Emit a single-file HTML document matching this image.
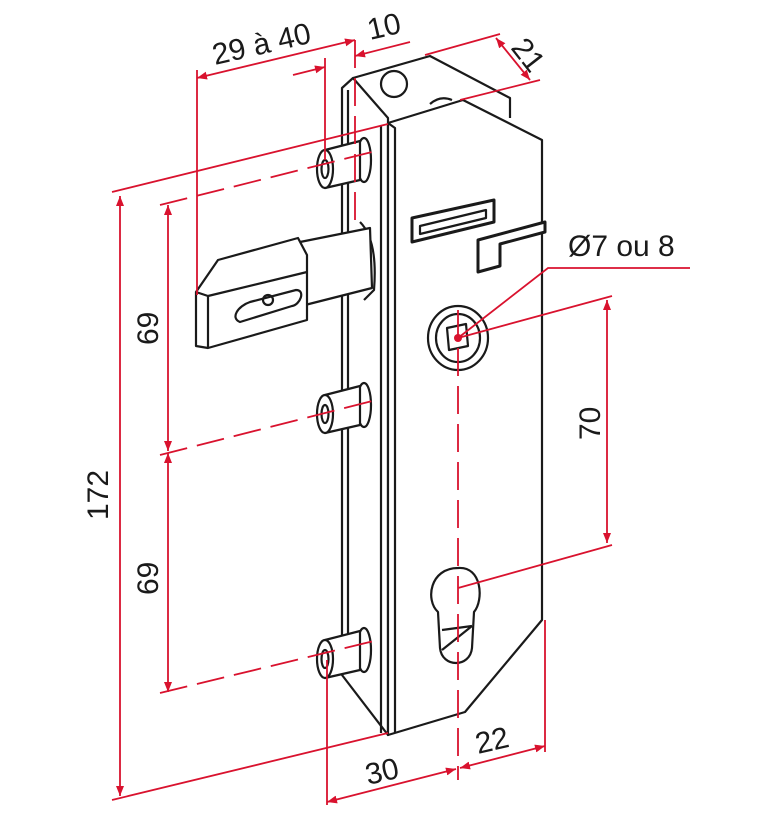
<!DOCTYPE html>
<html><head><meta charset="utf-8"><style>
html,body{margin:0;padding:0;background:#fff;}
svg{display:block}
text{font-family:"Liberation Sans",sans-serif;fill:#1a1a1a;font-size:30px}
</style></head><body>
<svg width="768" height="826" viewBox="0 0 768 826" xmlns="http://www.w3.org/2000/svg">
<defs>
<marker id="a" viewBox="0 0 10 10" refX="10" refY="5" markerWidth="10" markerHeight="10" orient="auto-start-reverse" markerUnits="userSpaceOnUse"><path d="M0,1 L10,5 L0,9z" fill="#d9122e"/></marker>
</defs>
<g fill="none" stroke="#1a1a1a" stroke-width="2.2" stroke-linejoin="round">
<!-- back top flange -->
<path d="M353,78 L430,56 L510,98 L510,118" fill="#fff"/>
<circle cx="394" cy="84" r="13" fill="#fff"/>
<path d="M430,104 Q440,95 452,100"/>
<!-- side plate -->
<path d="M342,88 L353,78 L388,118 L388,735 L342,675 Z" fill="#fff"/>
<line x1="381" y1="125" x2="381" y2="733"/>
<line x1="348" y1="90" x2="348" y2="672"/>
<!-- front plate -->
<path d="M388,123 L463,100 L542,140 L542,620 L465,712 L388,735 Z" fill="#fff"/>
<path d="M388,123 L395,128 L395,733"/>
<!-- slots -->
<path d="M412,218 L494,200 L494,222 L412,242 Z" fill="#fff" stroke-width="3"/>
<path d="M420,226 L486,210 L486,218 L420,234 Z"/>
<path d="M478,240 L545,222 L545,232 L500,244 L500,266 L478,272 Z" fill="#fff" stroke-width="3"/>
<!-- disk -->
<ellipse cx="458" cy="338" rx="30" ry="32"/>
<ellipse cx="458" cy="338" rx="22" ry="24"/>
<path d="M447,328 L466,324 L468,346 L449,350 Z"/>
<!-- keyhole -->
<path d="M458,568 C430,568 425,600 438,612 L440,648 C442,668 470,668 472,648 L474,612 C484,600 482,566 458,568 Z"/>
<path d="M442,630 L472,626 M442,650 L472,626"/>
<!-- pillars -->
<g fill="#fff">
<g>
<ellipse cx="364" cy="160" rx="7" ry="22"/>
<path d="M325,150 L360,141 L360,180 L325,188 Z"/>
<ellipse cx="325" cy="169" rx="8" ry="19"/><ellipse cx="325" cy="169" rx="3.5" ry="9"/>
</g>
<g>
<ellipse cx="364" cy="405" rx="7" ry="22"/>
<path d="M325,395 L360,386 L360,425 L325,433 Z"/>
<ellipse cx="325" cy="414" rx="8" ry="19"/><ellipse cx="325" cy="414" rx="3.5" ry="9"/>
</g>
<g>
<ellipse cx="364" cy="650" rx="7" ry="22"/>
<path d="M325,640 L360,631 L360,670 L325,678 Z"/>
<ellipse cx="325" cy="659" rx="8" ry="19"/><ellipse cx="325" cy="659" rx="3.5" ry="9"/>
</g>
</g>
<!-- bolt -->
<path d="M360,222 Q378,240 374,290 L364,300" fill="#fff"/>
<path d="M300,242 L370,228 L372,288 L305,305 Z" fill="#fff"/>
<path d="M196,292 L218,260 L298,238 L307,255 L307,320 L208,348 L196,346 Z" fill="#fff"/>
<path d="M196,292 L208,296 L307,272 M208,296 L208,348"/>
<path d="M240,322 C230,318 238,306 250,302 L296,290 C306,290 300,305 292,306 Z"/>
<circle cx="268" cy="300" r="5"/>
</g>
<!-- red dimensions -->
<g stroke="#d9122e" stroke-width="1.8" fill="none">
<line x1="112" y1="192" x2="388" y2="124"/>
<line x1="112" y1="800" x2="388" y2="733"/>
<line x1="120" y1="196" x2="120" y2="796" marker-start="url(#a)" marker-end="url(#a)"/>
<line x1="168" y1="205" x2="168" y2="451" marker-start="url(#a)" marker-end="url(#a)"/>
<line x1="168" y1="453" x2="168" y2="692" marker-start="url(#a)" marker-end="url(#a)"/>
<g stroke-dasharray="28,10">
<line x1="160" y1="205" x2="380" y2="150"/>
<line x1="160" y1="455" x2="376" y2="400"/>
<line x1="160" y1="693" x2="378" y2="640"/>
<line x1="355" y1="40" x2="355" y2="230"/>
<line x1="458" y1="310" x2="458" y2="780"/>
</g>
<line x1="197" y1="70" x2="197" y2="295"/>
<line x1="197" y1="78" x2="355" y2="40" marker-start="url(#a)" marker-end="url(#a)"/>
<line x1="325" y1="58" x2="325" y2="160"/>
<line x1="293" y1="75" x2="325" y2="67" marker-end="url(#a)"/>
<line x1="410" y1="42" x2="355" y2="56" marker-end="url(#a)"/>
<line x1="425" y1="55" x2="500" y2="34"/>
<line x1="460" y1="100" x2="540" y2="80"/>
<line x1="496" y1="38" x2="530" y2="80" marker-start="url(#a)" marker-end="url(#a)"/>
<line x1="458" y1="338" x2="612" y2="296"/>
<line x1="458" y1="588" x2="612" y2="545"/>
<line x1="607" y1="300" x2="607" y2="543" marker-start="url(#a)" marker-end="url(#a)"/>
<polyline points="458,338 548,268 690,268"/>
<line x1="327" y1="660" x2="327" y2="805"/>
<line x1="545" y1="620" x2="545" y2="752"/>
<line x1="327" y1="802" x2="456" y2="769" marker-start="url(#a)" marker-end="url(#a)"/>
<line x1="460" y1="768" x2="545" y2="746" marker-start="url(#a)" marker-end="url(#a)"/>
</g>
<circle cx="458" cy="338" r="4" fill="#d9122e"/>
<!-- labels -->
<text x="215" y="65" transform="rotate(-13 215 65)">29 à 40</text>
<text x="370" y="40" transform="rotate(-13 370 40)">10</text>
<text x="510" y="48" transform="rotate(52 510 48)">21</text>
<text transform="translate(108,520) rotate(-90)">172</text>
<text transform="translate(158,345) rotate(-90)">69</text>
<text transform="translate(158,595) rotate(-90)">69</text>
<text transform="translate(600,440) rotate(-90)">70</text>
<text x="368" y="785" transform="rotate(-13 368 785)">30</text>
<text x="478" y="754" transform="rotate(-13 478 754)">22</text>
<text x="568" y="256">Ø7 ou 8</text>
</svg>
</body></html>
